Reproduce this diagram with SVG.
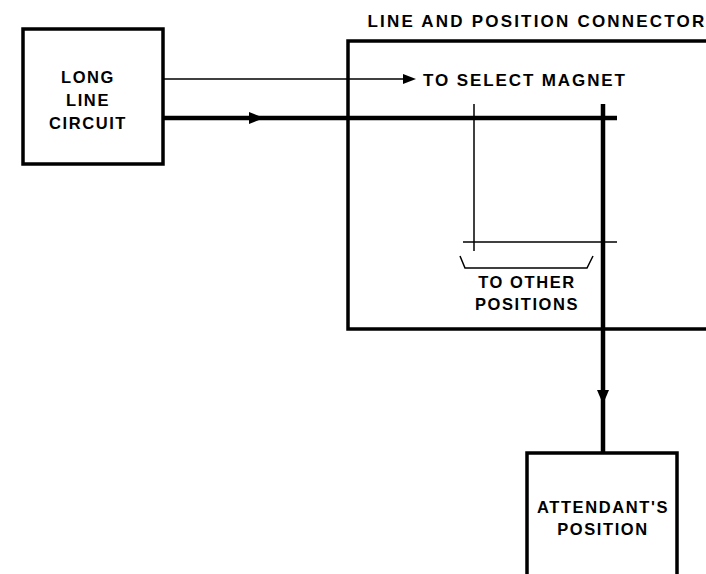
<svg xmlns="http://www.w3.org/2000/svg" width="706" height="574" viewBox="0 0 706 574">
<style>
.box{fill:none;stroke:#000;stroke-width:3.5}
.thin{fill:none;stroke:#000;stroke-width:1.5}
.thick{fill:none;stroke:#000;stroke-width:4.5}
text{font-family:"Liberation Sans",Arial,sans-serif;font-weight:bold;font-size:16.5px;letter-spacing:1.6px;fill:#000;text-anchor:middle}
.title{font-size:17px;letter-spacing:2.2px}
.lbl{font-size:17px;letter-spacing:1.9px;text-anchor:start}
</style>
<rect width="706" height="574" fill="#fff"/>
<g id="long-line-circuit">
<rect class="box" x="23" y="29" width="140" height="135"/>
<text x="88" y="83">LONG</text>
<text x="88" y="106">LINE</text>
<text x="88" y="129">CIRCUIT</text>
</g>
<g id="line-and-position-connector">
<path class="box" d="M708 41 H348 V329 H708"/>
<text class="title" x="537" y="27">LINE AND POSITION CONNECTOR</text>
</g>
<g id="attendants-position">
<path class="box" d="M527 578 V453 H677 V578"/>
<text x="603" y="513">ATTENDANT'S</text>
<text x="603" y="535">POSITION</text>
</g>
<g id="connectors">
<line class="thin" x1="163" y1="79" x2="406" y2="79"/>
<polygon points="403,74 416,79 403,84"/>
<text class="lbl" x="423" y="86">TO SELECT MAGNET</text>
<line class="thick" x1="163" y1="118" x2="617" y2="118"/>
<polygon points="249,112 264,118 249,124"/>
<line class="thin" x1="474" y1="104" x2="474" y2="251"/>
<line class="thin" x1="463" y1="242" x2="617" y2="242"/>
<line class="thick" x1="603" y1="104" x2="603" y2="453"/>
<polygon points="597,390 609,390 603,404"/>
<path class="thin" d="M460 256 L465 268 H587 L593 256"/>
<text x="527" y="288">TO OTHER</text>
<text x="527" y="310">POSITIONS</text>
</g>
</svg>
